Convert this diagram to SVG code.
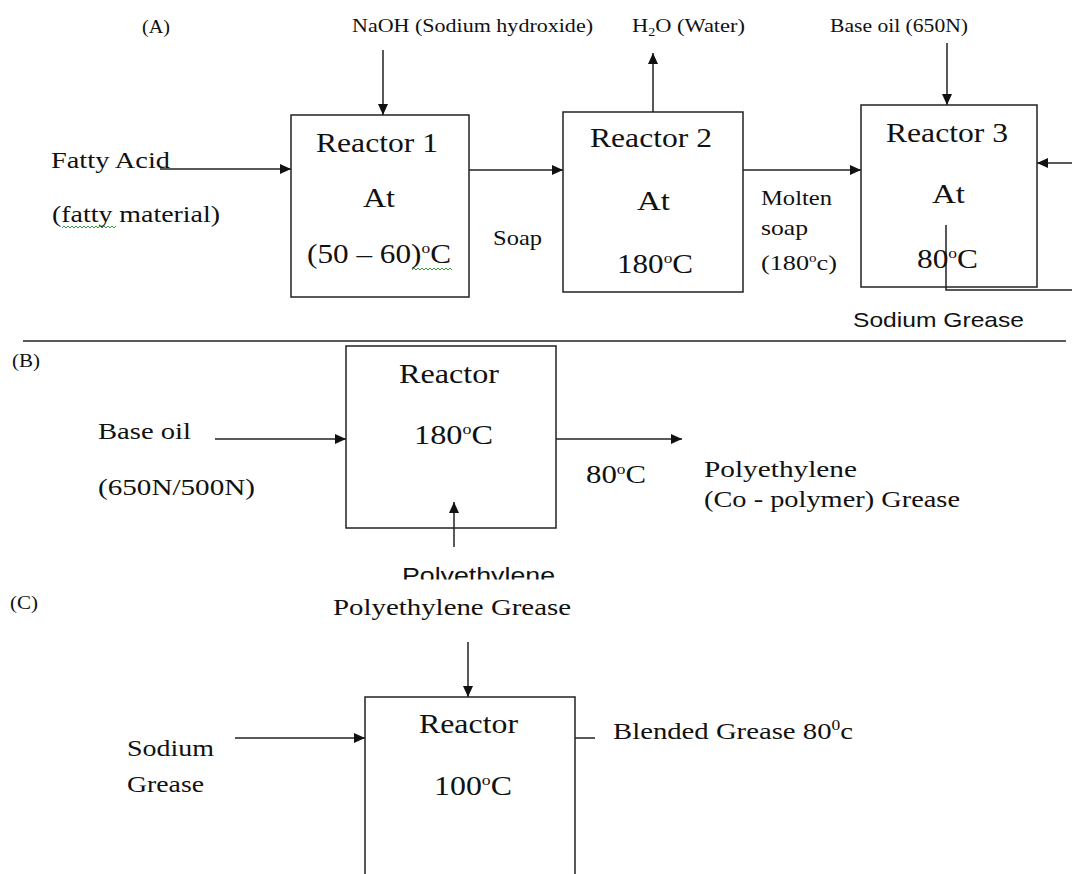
<svg xmlns="http://www.w3.org/2000/svg" width="1072" height="874" viewBox="0 0 1072 874">
<style>
.t{font-family:"Liberation Serif","Times New Roman",serif;fill:#111}
.s{font-family:"Liberation Sans",Arial,sans-serif;fill:#111}
.ln{stroke:#222;stroke-width:1.5;fill:none}
.ar{stroke:#222;stroke-width:1.5;fill:none;marker-end:url(#ah)}
.box{fill:none;stroke:#222;stroke-width:1.5}
.wv{fill:none;stroke:#3a9a3a;stroke-width:1}
</style>
<defs>
<marker id="ah" markerUnits="userSpaceOnUse" markerWidth="11" markerHeight="10" refX="11" refY="5" orient="auto">
<path d="M0,0 L11,5 L0,10 z" fill="#111"/>
</marker>
<clipPath id="cut"><rect x="380" y="555" width="200" height="24.5"/></clipPath>
</defs>
<rect width="1072" height="874" fill="#fff"/>

<g id="connectors">
<line class="ar" x1="160" y1="169" x2="291" y2="169"/>
<line class="ar" x1="383" y1="50" x2="383" y2="115"/>
<line class="ar" x1="469" y1="170" x2="563" y2="170"/>
<line class="ar" x1="653" y1="112" x2="653" y2="53"/>
<line class="ar" x1="743" y1="170" x2="861" y2="170"/>
<line class="ar" x1="947" y1="43" x2="947" y2="105"/>
<line class="ar" x1="1072" y1="163" x2="1037" y2="163"/>
<polyline class="ln" points="946,225 946,290 1072,290"/>
<line class="ln" x1="23" y1="341" x2="1066" y2="341"/>
<line class="ar" x1="215" y1="439" x2="346" y2="439"/>
<line class="ar" x1="556" y1="439" x2="682" y2="439"/>
<line class="ar" x1="454" y1="547" x2="454" y2="502"/>
<line class="ar" x1="468" y1="642" x2="468" y2="697"/>
<line class="ar" x1="235" y1="738" x2="365" y2="738"/>
<line class="ln" x1="575" y1="738" x2="595" y2="738"/>
</g>

<g id="labelA"><text class="t" x="142" y="33" font-size="18" textLength="28" lengthAdjust="spacingAndGlyphs">(A)</text></g>
<g id="naoh"><text class="t" x="352" y="32" font-size="19" textLength="241" lengthAdjust="spacingAndGlyphs">NaOH (Sodium hydroxide)</text></g>
<g id="water"><text class="t" x="632" y="32" font-size="19" textLength="113" lengthAdjust="spacingAndGlyphs">H<tspan font-size="12" dy="4">2</tspan><tspan dy="-4">O (Water)</tspan></text></g>
<g id="baseoilA"><text class="t" x="830" y="32" font-size="19" textLength="138" lengthAdjust="spacingAndGlyphs">Base oil (650N)</text></g>

<g id="fatty">
<text class="t" x="51" y="168" font-size="24" textLength="119" lengthAdjust="spacingAndGlyphs">Fatty Acid</text>
<text class="t" x="52" y="222" font-size="24" textLength="168" lengthAdjust="spacingAndGlyphs">(fatty material)</text>
<path class="wv" d="M62,228 l2,-2 l2,2 l2,-2 l2,2 l2,-2 l2,2 l2,-2 l2,2 l2,-2 l2,2 l2,-2 l2,2 l2,-2 l2,2 l2,-2 l2,2 l2,-2 l2,2 l2,-2 l2,2 l2,-2 l2,2 l2,-2 l2,2 l2,-2 l2,2 l2,-2"/>
</g>

<g id="reactor1">
<rect class="box" x="291" y="115" width="178" height="182"/>
<text class="t" x="316" y="152" font-size="27" textLength="122" lengthAdjust="spacingAndGlyphs">Reactor 1</text>
<text class="t" x="363" y="207" font-size="27" textLength="32" lengthAdjust="spacingAndGlyphs">At</text>
<text class="t" x="307" y="263" font-size="27" textLength="144" lengthAdjust="spacingAndGlyphs">(50 – 60)<tspan font-size="15" dy="-10">o</tspan><tspan dy="10">C</tspan></text>
<path class="wv" d="M412,270 l2,-2 l2,2 l2,-2 l2,2 l2,-2 l2,2 l2,-2 l2,2 l2,-2 l2,2 l2,-2 l2,2 l2,-2 l2,2 l2,-2 l2,2 l2,-2 l2,2 l2,-2 l2,2"/>
</g>

<g id="soap"><text class="t" x="493" y="245" font-size="22" textLength="49" lengthAdjust="spacingAndGlyphs">Soap</text></g>

<g id="reactor2">
<rect class="box" x="563" y="112" width="180" height="180"/>
<text class="t" x="590" y="147" font-size="27" textLength="122" lengthAdjust="spacingAndGlyphs">Reactor 2</text>
<text class="t" x="637" y="210" font-size="27" textLength="33" lengthAdjust="spacingAndGlyphs">At</text>
<text class="t" x="617" y="273" font-size="27" textLength="76" lengthAdjust="spacingAndGlyphs">180<tspan font-size="15" dy="-10">o</tspan><tspan dy="10">C</tspan></text>
</g>

<g id="molten">
<text class="t" x="761" y="205" font-size="21" textLength="71" lengthAdjust="spacingAndGlyphs">Molten</text>
<text class="t" x="761" y="235" font-size="21" textLength="47" lengthAdjust="spacingAndGlyphs">soap</text>
<text class="t" x="761" y="270" font-size="21" textLength="76" lengthAdjust="spacingAndGlyphs">(180<tspan font-size="12" dy="-8">o</tspan><tspan dy="8">c)</tspan></text>
</g>

<g id="reactor3">
<rect class="box" x="861" y="105" width="176" height="182"/>
<text class="t" x="886" y="142" font-size="27" textLength="122" lengthAdjust="spacingAndGlyphs">Reactor 3</text>
<text class="t" x="932" y="203" font-size="27" textLength="33" lengthAdjust="spacingAndGlyphs">At</text>
<text class="t" x="917" y="268" font-size="27" textLength="61" lengthAdjust="spacingAndGlyphs">80<tspan font-size="15" dy="-10">o</tspan><tspan dy="10">C</tspan></text>
</g>

<g id="sodiumA"><text class="s" x="853" y="327" font-size="21" textLength="171" lengthAdjust="spacingAndGlyphs">Sodium Grease</text></g>

<g id="labelB"><text class="t" x="12" y="367" font-size="18" textLength="28" lengthAdjust="spacingAndGlyphs">(B)</text></g>
<g id="baseoilB">
<text class="t" x="98" y="439" font-size="24" textLength="93" lengthAdjust="spacingAndGlyphs">Base oil</text>
<text class="t" x="98" y="495" font-size="24" textLength="157" lengthAdjust="spacingAndGlyphs">(650N/500N)</text>
</g>
<g id="reactorB">
<rect class="box" x="346" y="346" width="210" height="182"/>
<text class="t" x="399" y="383" font-size="27" textLength="100" lengthAdjust="spacingAndGlyphs">Reactor</text>
<text class="t" x="414" y="444" font-size="27" textLength="79" lengthAdjust="spacingAndGlyphs">180<tspan font-size="15" dy="-10">o</tspan><tspan dy="10">C</tspan></text>
</g>
<g id="tempB"><text class="t" x="586" y="483" font-size="25" textLength="60" lengthAdjust="spacingAndGlyphs">80<tspan font-size="14" dy="-9">o</tspan><tspan dy="9">C</tspan></text></g>
<g id="pegrease">
<text class="t" x="704" y="477" font-size="24" textLength="153" lengthAdjust="spacingAndGlyphs">Polyethylene</text>
<text class="t" x="704" y="507" font-size="24" textLength="256" lengthAdjust="spacingAndGlyphs">(Co - polymer) Grease</text>
</g>
<g id="polyethyleneCut"><text class="s" x="402" y="583" font-size="22" textLength="153" lengthAdjust="spacingAndGlyphs" clip-path="url(#cut)">Polyethylene</text></g>

<g id="labelC"><text class="t" x="10" y="609" font-size="18" textLength="28" lengthAdjust="spacingAndGlyphs">(C)</text></g>
<g id="pegreaseC"><text class="t" x="333" y="615" font-size="24" textLength="238" lengthAdjust="spacingAndGlyphs">Polyethylene Grease</text></g>
<g id="sodiumC">
<text class="t" x="127" y="756" font-size="24" textLength="87" lengthAdjust="spacingAndGlyphs">Sodium</text>
<text class="t" x="127" y="792" font-size="24" textLength="77" lengthAdjust="spacingAndGlyphs">Grease</text>
</g>
<g id="reactorC">
<rect class="box" x="365" y="697" width="210" height="190"/>
<text class="t" x="419" y="733" font-size="27" textLength="99" lengthAdjust="spacingAndGlyphs">Reactor</text>
<text class="t" x="434" y="795" font-size="27" textLength="78" lengthAdjust="spacingAndGlyphs">100<tspan font-size="15" dy="-10">o</tspan><tspan dy="10">C</tspan></text>
</g>
<g id="blended"><text class="t" x="613" y="739" font-size="23" textLength="240" lengthAdjust="spacingAndGlyphs">Blended Grease 80<tspan font-size="14" dy="-9">0</tspan><tspan dy="9">c</tspan></text></g>
</svg>
